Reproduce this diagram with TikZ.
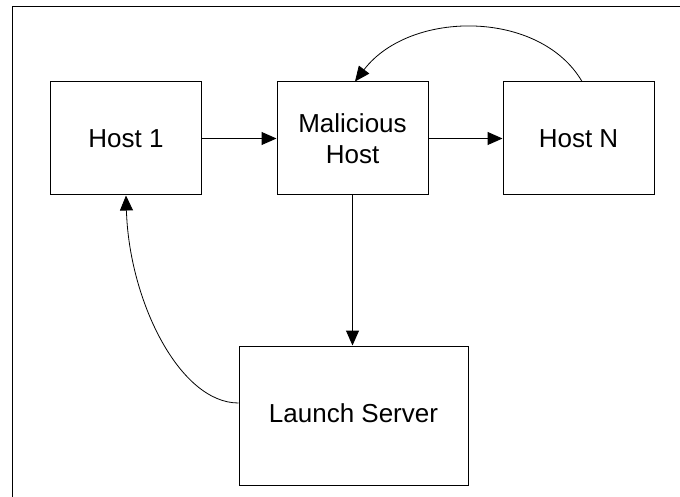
\documentclass[tikz,border=0pt]{standalone}
\usepackage{fontspec}
\setmainfont{Liberation Sans}
\usetikzlibrary{arrows.meta}
\tikzset{
  hostbox/.style={draw, line width=1pt, rectangle, minimum width=151pt, minimum height=113pt,
    inner sep=0pt, align=center, font=\fontsize{26}{31}\selectfont},
  flow/.style={line width=1pt, -{Triangle[length=15pt, width=13pt]}},
  loopback/.style={line width=0.8pt, -{Triangle[length=15pt, width=13pt]}}
}
\begin{document}
\begin{tikzpicture}[x=1pt, y=-1pt]
  \useasboundingbox (0,0) rectangle (680,497);
  % outer frame (only its left and top edges fall inside the page)
  \draw[line width=1pt] (12.5,497) -- (12.5,6.5) -- (680,6.5);

  \node[hostbox] (h1) at (126,138.5) {Host 1};
  \node[hostbox] (mh) at (352.5,138.5) {Malicious\\Host};
  \node[hostbox] (hn) at (578.5,138.5) {Host N};
  \node[hostbox, minimum width=229pt, minimum height=139pt] (ls) at (353.5,415.5) {\raisebox{5pt}{Launch Server}};

  \draw[flow] (h1.east) -- (mh.west);
  \draw[flow] (mh.east) -- (hn.west);
  \draw[flow] (mh.south) -- (mh.south |- ls.north);
  \draw[loopback] ([xshift=3.5pt]hn.north) .. controls +(-42,-72) and +(55,-72) .. ([xshift=2.5pt]mh.north);
  \draw[loopback] ([yshift=12.5pt]ls.west) .. controls +(-59,0) and +(3,105) .. (h1.south);
\end{tikzpicture}
\end{document}
